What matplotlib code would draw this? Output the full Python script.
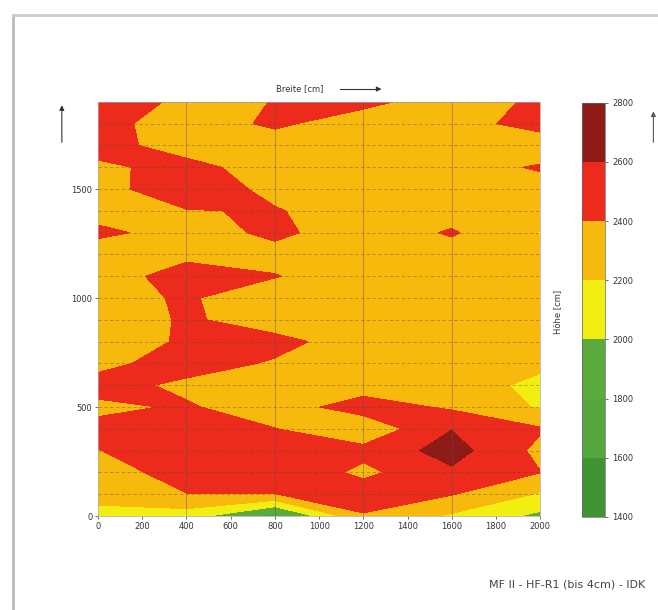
import numpy as np
import matplotlib
matplotlib.use("Agg")
import matplotlib.pyplot as plt
from matplotlib.lines import Line2D

plt.rcParams['font.family'] = ['DejaVu Sans']

# Messraster: Breite (x) und Höhe (y) in cm
breite = [0, 400, 800, 1200, 1600, 2000]
hoehe = list(range(0, 2000, 100))

# Messwerte je Zeile (y = 0 ... 1900), Spalten = breite
werte = [
    [2120, 2100, 1700, 2380, 2170, 1950],
    [2280, 2395, 2395, 2520, 2410, 2180],
    [2300, 2490, 2572, 2350, 2567, 2405],
    [2395, 2500, 2550, 2460, 2680, 2348],
    [2450, 2550, 2405, 2250, 2595, 2420],
    [2360, 2420, 2300, 2497, 2370, 2180],
    [2470, 2360, 2300, 2300, 2330, 2130],
    [2350, 2480, 2380, 2300, 2300, 2260],
    [2190, 2450, 2460, 2300, 2300, 2300],
    [2250, 2430, 2300, 2300, 2300, 2300],
    [2330, 2422, 2280, 2300, 2300, 2300],
    [2250, 2530, 2410, 2280, 2300, 2300],
    [2250, 2330, 2330, 2300, 2316, 2300],
    [2456, 2300, 2446, 2280, 2421, 2190],
    [2296, 2390, 2414, 2300, 2316, 2300],
    [2330, 2524, 2347, 2300, 2300, 2300],
    [2340, 2500, 2250, 2300, 2300, 2425],
    [2520, 2260, 2300, 2300, 2300, 2250],
    [2467, 2300, 2433, 2300, 2300, 2496],
    [2560, 2340, 2405, 2450, 2300, 2435],
]

stufen = [1400, 1600, 1800, 2000, 2200, 2400, 2600, 2800]
farben = ['#3f9532', '#55a63d', '#5aaa3c', '#f3ee12', '#f6b90c', '#ec2b1d', '#8e1b15']

fig = plt.figure(figsize=(6.58, 6.10), dpi=100)

ax = fig.add_axes([0.149, 0.154, 0.672, 0.679])
cs = ax.contourf(breite, hoehe, np.array(werte), levels=stufen, colors=farben)

# Gitterlinien
for y in hoehe[1:]:
    ax.axhline(y, color='#444444', lw=0.6, ls=(0, (4, 3)), alpha=0.45)
for x in breite[1:-1]:
    ax.axvline(x, color='#555555', lw=0.7, alpha=0.45)

ax.set_xlim(0, 2000)
ax.set_ylim(0, 1900)
ax.set_xticks(range(0, 2001, 200))
ax.set_yticks([0, 500, 1000, 1500])
ax.tick_params(labelsize=6, length=2, width=0.5, colors='#333333', pad=2)
for s in ax.spines.values():
    s.set_color('#aaaaaa')
    s.set_linewidth(0.5)

# Farbskala
cax = fig.add_axes([0.8845, 0.1525, 0.035, 0.679])
cb = fig.colorbar(cs, cax=cax, ticks=stufen)
cb.ax.tick_params(labelsize=6, length=2, width=0.5, colors='#333333', pad=3)
cb.outline.set_linewidth(0.5)
cb.outline.set_edgecolor('#666666')

# Beschriftungen
fig.text(0.456, 0.854, 'Breite [cm]', fontsize=6, ha='center', va='center', color='#333333')
fig.add_artist(Line2D([0.517, 0.575], [0.854, 0.854], color='#333333', lw=0.8))
fig.text(0.847, 0.489, 'Höhe [cm]', fontsize=6, rotation=90, ha='center', va='center', color='#333333')
fig.text(0.980, 0.041, 'MF II - HF-R1 (bis 4cm) - IDK', fontsize=8, ha='right', va='center', color='#444444')

ax.annotate('', xy=(0.094, 0.832), xytext=(0.094, 0.762), xycoords='figure fraction',
            arrowprops=dict(arrowstyle='-|>', color='#333333', lw=0.8, mutation_scale=7))
ax.annotate('', xy=(0.584, 0.854), xytext=(0.570, 0.854), xycoords='figure fraction',
            arrowprops=dict(arrowstyle='-|>', color='#333333', lw=0.8, mutation_scale=7))
ax.annotate('', xy=(0.993, 0.822), xytext=(0.993, 0.762), xycoords='figure fraction',
            arrowprops=dict(arrowstyle='-|>', color='#555555', lw=0.8, mutation_scale=7))

# Rand vom Scan
fig.add_artist(Line2D([0.0198, 0.0198], [0.0, 0.9754], color='#bbbbbb', lw=2))
fig.add_artist(Line2D([0.0198, 1.0], [0.9754, 0.9754], color='#cccccc', lw=2))

fig.savefig('out.png', dpi=100)
